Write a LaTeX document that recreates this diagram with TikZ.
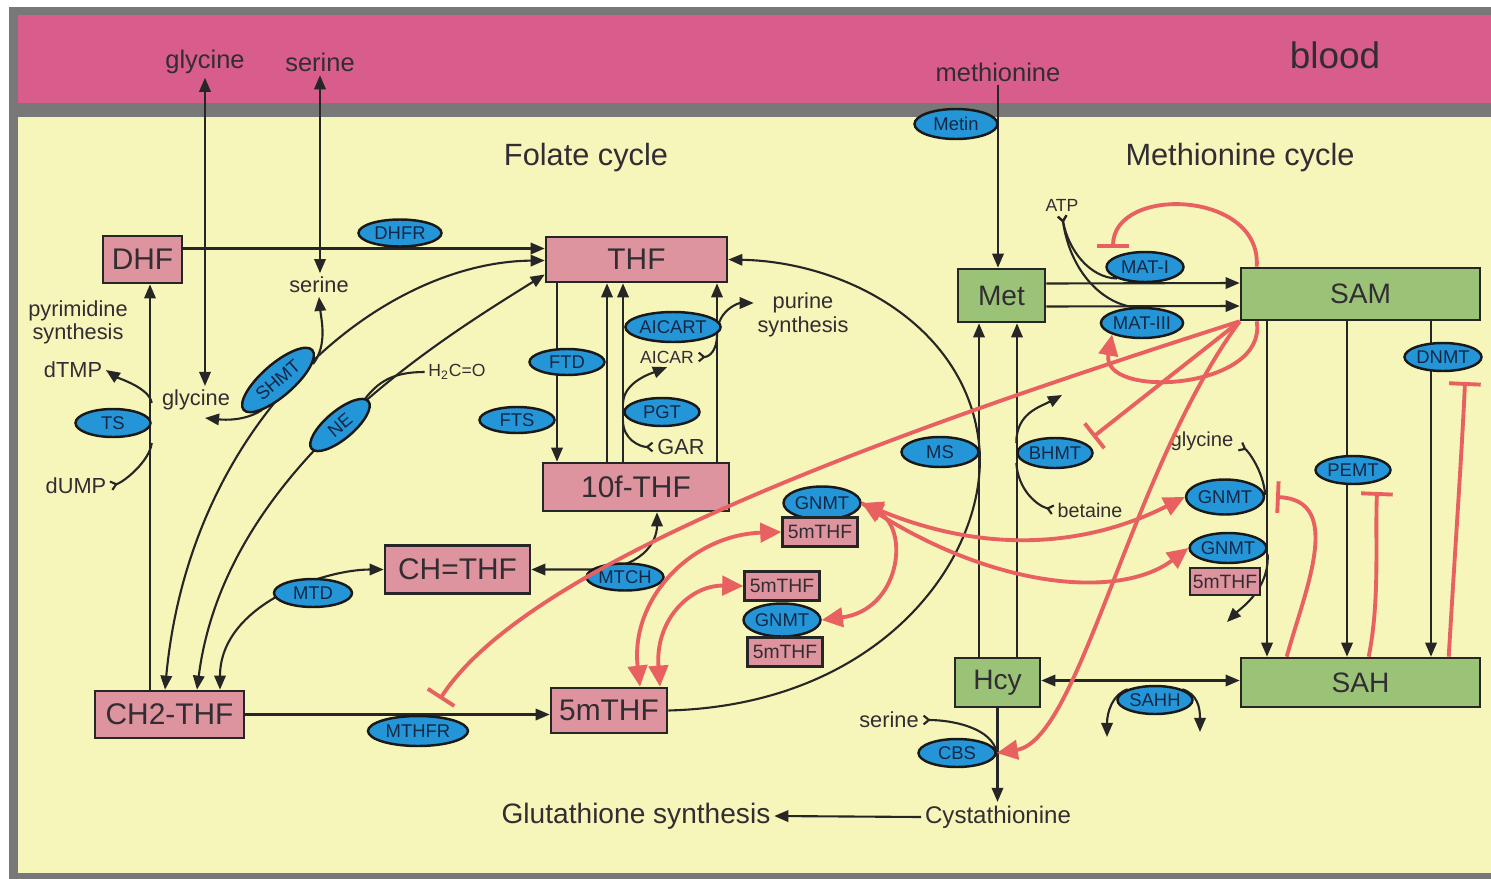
\documentclass[tikz,border=0pt]{standalone}
\usepackage{fontspec}
\setmainfont{Liberation Sans}
\usepackage{tikz}
\usetikzlibrary{shapes, arrows.meta, calc, positioning}

\definecolor{bloodpink}{RGB}{216,92,140}
\definecolor{cellyellow}{RGB}{246,246,186}
\definecolor{framegrey}{RGB}{120,120,120}
\definecolor{folpink}{RGB}{222,148,158}
\definecolor{metgreen}{RGB}{155,195,120}
\definecolor{enzblue}{RGB}{36,150,216}
\definecolor{regred}{RGB}{232,96,95}
\definecolor{ink}{RGB}{50,45,50}
\definecolor{enzink}{RGB}{20,40,70}

\pgfdeclarelayer{back}
\pgfdeclarelayer{lines}
\pgfsetlayers{back,lines,main}

\begin{document}
\begin{tikzpicture}[
      x=0.02cm, y=-0.02cm,  % one unit = one pixel of the sketch
      Tri/.tip={Triangle[length=8pt, width=6.5pt]},
      Big/.tip={Triangle[length=12pt, width=11pt]},
      Fork/.tip={Straight Barb[reversed, length=3pt, width=5pt]},
      Inh/.tip={Bar[width=18pt]},
      folbox/.style={draw=black!85, line width=1.5pt, fill=folpink, inner sep=0pt, minimum height=9.4mm, text=ink, font=\fontsize{17}{20}\selectfont},
      metbox/.style={draw=black!85, line width=1.5pt, fill=metgreen, inner sep=0pt, text=ink, font=\fontsize{16}{19}\selectfont},
      smbox/.style={draw=black!85, line width=1.3pt, fill=folpink, inner sep=0pt, minimum width=15mm, minimum height=5.8mm, text=ink, font=\fontsize{11}{13}\selectfont},
      enz/.style={ellipse, draw=black!90, line width=1.4pt, fill=enzblue, inner sep=0pt, minimum width=15mm, minimum height=5.6mm, text=enzink, font=\fontsize{10.5}{12}\selectfont},
      lbl/.style={text=ink, inner sep=2pt, font=\fontsize{12.4}{14}\selectfont},
      tiny/.style={text=ink, inner sep=2pt, font=\fontsize{10}{12}\selectfont},
      toplbl/.style={text=ink, inner sep=2pt, font=\fontsize{14.5}{17}\selectfont},
      heading/.style={text=ink, inner sep=2pt, font=\fontsize{17.5}{21}\selectfont},
      flow/.style={draw=black!85, line width=1.2pt},
      reg/.style={draw=regred, line width=2.2pt}
    ]
    \useasboundingbox (0,0) rectangle (1491,879);
    % blood band, membrane and cell
    \begin{pgfonlayer}{back}
      \fill[white] (0,0) rectangle (1491,879);
      \fill[framegrey] (9,7) rectangle (1491,879);
      \fill[bloodpink] (18,15) rectangle (1491,103);
      \fill[cellyellow] (18,117) rectangle (1491,873);
    \end{pgfonlayer}

    % headings
    \node[heading, font=\fontsize{21}{24}\selectfont] (blood) at (1335,55) {blood};
    \node[heading] (folcyc) at (586,158) {Folate cycle};
    \node[heading] (metcyc) at (1240,158) {Methionine cycle};
    \node[heading, font=\fontsize{16}{19}\selectfont] (gluta) at (636,816) {Glutathione synthesis};

    % blood metabolites
    \node[toplbl] (bgly) at (205,62) {glycine};
    \node[toplbl] (bser) at (320,62) {serine};
    \node[toplbl] (bmet) at (998,72) {methionine};

    % folate cycle
    \node[folbox, minimum width=15.8mm] (dhf) at (142.5,259.5) {DHF};
    \node[folbox, minimum width=36.2mm, minimum height=9mm] (thf) at (636.5,259.5) {THF};
    \node[folbox, minimum width=37.2mm, minimum height=9.6mm] (fthf) at (636,487) {10f-THF};
    \node[folbox, minimum width=29mm, minimum height=9.6mm] (chthf) at (457.5,569.5) {CH=THF};
    \node[folbox, minimum width=29.8mm] (ch2thf) at (169.5,714.5) {CH2-THF};
    \node[folbox, minimum width=23.2mm, minimum height=9mm] (mthf) at (609,710.5) {5mTHF};

    % methionine cycle
    \node[metbox, minimum width=17.4mm, minimum height=10.6mm] (met) at (1001.5,295.5) {Met};
    \node[metbox, minimum width=47.8mm, minimum height=10.4mm] (sam) at (1360.5,294) {SAM};
    \node[metbox, minimum width=17mm, minimum height=9.8mm] (hcy) at (997.5,682.5) {Hcy};
    \node[metbox, minimum width=47.8mm, minimum height=9.8mm] (sah) at (1360.5,682.5) {SAH};

    % side metabolites
    \node[lbl] (iser) at (319,285) {serine};
    \node[lbl] (igly) at (196,400) {glycine};
    \node[lbl, align=center, font=\fontsize{12.4}{13}\selectfont] (pyrim) at (78,322) {pyrimidine\\synthesis};
    \node[lbl] (dtmp) at (73,370) {dTMP};
    \node[lbl] (dump) at (76,486) {dUMP};
    \node[tiny] (hcho) at (457,372) {H\textsubscript{2}C=O};
    \node[lbl, align=center, font=\fontsize{12.4}{13.6}\selectfont] (purine) at (803,315) {purine\\synthesis};
    \node[tiny] (aicar) at (667,357) {AICAR};
    \node[lbl] (gar) at (681,447) {GAR};
    \node[tiny] (atp) at (1062,205) {ATP};
    \node[lbl, font=\fontsize{11.5}{13}\selectfont] (rgly) at (1202,441) {glycine};
    \node[lbl, font=\fontsize{11.2}{13}\selectfont] (betaine) at (1090,510) {betaine};
    \node[lbl] (sser) at (889,720) {serine};
    \node[lbl, font=\fontsize{13.7}{16}\selectfont] (cysta) at (998,817) {Cystathionine};

    % enzymes
    \node[enz, minimum width=16.6mm, minimum height=6mm] (metin) at (956,124) {Metin};
    \node[enz, minimum width=16.6mm, minimum height=5.4mm] (dhfr) at (400,233) {DHFR};
    \node[enz, rotate=41, minimum width=18.2mm, minimum height=6.4mm] (shmt) at (278,380) {SHMT};
    \node[enz, rotate=40, minimum width=14.8mm] (ne) at (340,425) {NE};
    \node[enz] (ts) at (113,423) {TS};
    \node[enz, minimum height=5.2mm] (ftd) at (567,362) {FTD};
    \node[enz, minimum height=5.2mm] (fts) at (517,420) {FTS};
    \node[enz, minimum width=17mm, minimum height=6mm] (aicart) at (673,327) {AICART};
    \node[enz] (pgt) at (662,412) {PGT};
    \node[enz, minimum width=15.4mm, minimum height=5.4mm] (mtch) at (625,577) {MTCH};
    \node[enz, minimum width=15.6mm] (mtd) at (313,593) {MTD};
    \node[enz, minimum width=20mm, minimum height=6mm] (mthfr) at (418,731) {MTHFR};
    \node[enz, minimum width=15.4mm, minimum height=6mm] (mati) at (1145,267) {MAT-I};
    \node[enz, minimum width=15.4mm, minimum height=6mm] (matiii) at (1142,323) {MAT-III};
    \node[enz, minimum width=15.4mm, minimum height=6mm] (ms) at (940,452) {MS};
    \node[enz, minimum height=6mm] (bhmt) at (1055,453) {BHMT};
    \node[enz, minimum width=15.4mm] (dnmt) at (1443,357) {DNMT};
    \node[enz] (pemt) at (1353,470) {PEMT};
    \node[enz] (sahh) at (1155,700) {SAHH};
    \node[enz, minimum width=15.4mm] (cbs) at (957,753) {CBS};
    \node[enz, minimum width=15.4mm, minimum height=6.6mm] (gnmta) at (822,503) {GNMT};
    \node[smbox] (sma) at (820,532) {5mTHF};
    \node[smbox] (smb) at (782,586) {5mTHF};
    \node[enz, minimum width=15.4mm, minimum height=6.6mm] (gnmtb) at (782,620) {GNMT};
    \node[smbox] (smc) at (785,652) {5mTHF};
    \node[enz, minimum width=15.6mm, minimum height=7mm] (gnmtc) at (1225,497) {GNMT};
    \node[enz, minimum width=14mm, minimum height=6mm] (gnmtd) at (1228,548) {GNMT};
    \node[smbox, minimum width=14mm, minimum height=5.4mm] (smd) at (1225,581.5) {5mTHF};

    % columns of the vertical connectors
    \coordinate (xdhf) at (150,0);
    \coordinate (xout) at (165,0);
    \coordinate (xin) at (197,0);
    \coordinate (xmtd) at (220,0);
    \coordinate (xftd) at (557,0);
    \coordinate (xup) at (607,0);
    \coordinate (xpgt) at (623,0);
    \coordinate (xaic) at (717,0);
    \coordinate (xmtch) at (657,0);
    \coordinate (xms) at (979,0);
    \coordinate (xbh) at (1017,0);
    \coordinate (xgn) at (1267,0);
    \coordinate (xpe) at (1347,0);
    \coordinate (xdn) at (1431,0);
    % branch points and free ends
    \coordinate (sha) at (313,364);
    \coordinate (shb) at (262,410);
    \coordinate (nea) at (362,403);
    \coordinate (pgta) at (623,404);
    \coordinate (pgtb) at (623,421);
    \coordinate (aicj) at (717,335);
    \coordinate (glyend) at (205,418);
    \coordinate (bhmtend) at (1062,395);
    \coordinate (sahhl) at (1107,737);
    \coordinate (sahhr) at (1200,732);
    \coordinate (gnend) at (1227,622);
    \coordinate (matit) at (1113,248);
    \coordinate (bhmtt) at (1093,437);
    \coordinate (mthfrt) at (440,699);
    \coordinate (gnmtt) at (1276,497);
    \coordinate (pemtt) at (1377,492);
    \coordinate (dnmtt) at (1465,382);

    \begin{pgfonlayer}{lines}
      % transport from blood
      \draw[flow, Tri-Tri] (bgly.south) -- (bgly.south |- igly.north);
      \draw[flow, Tri-Tri] (bser.south) -- (bser.south |- iser.north);
      \draw[flow, -Tri] (bmet.south) -- (bmet.south |- met.north);
      % folate cycle
      \draw[flow, -Tri] ($(dhf.east)+(0,-11)$) -- ($(thf.west)+(0,-11)$);
      \draw[flow, -Tri] (ch2thf.north -| xdhf) -- (dhf.south -| xdhf);
      \draw[flow, Tri-Tri] ($(thf.west)+(0,1)$) .. controls (380,262) and (190,420) .. (ch2thf.north -| xout);
      \draw[flow, Tri-Tri] ($(thf.west)+(0,15)$) .. controls (440,340) and (225,470) .. (ch2thf.north -| xin);
      \draw[flow, Tri-Tri] (ch2thf.north -| xmtd) .. controls +(0,-85) and +(-60,0) .. (chthf.west);
      \draw[flow, -Tri] (ch2thf.east) -- (ch2thf.east -| mthf.west);
      \draw[flow, -Tri] (sha) .. controls (328,345) and (321,318) .. (iser.south);
      \draw[flow, -Tri] (shb) .. controls (245,421) and (225,420) .. (glyend);
      \draw[flow] (nea) .. controls (378,380) and (395,372) .. (hcho.west);
      \draw[flow, -Tri] ($(ts.east)+(0,-20)$) .. controls +(-2,-15) and +(12,8) .. (dtmp.east);
      \draw[flow, -Fork] ($(ts.east)+(0,20)$) .. controls +(-2,18) and +(14,-4) .. (dump.east);
      \draw[flow, -Tri] (thf.south -| xftd) -- (fthf.north -| xftd);
      \draw[flow, -Tri] (fthf.north -| xup) -- (thf.south -| xup);
      \draw[flow, -Tri] (fthf.north -| xpgt) -- (thf.south -| xpgt);
      \draw[flow, -Tri] (fthf.north -| xaic) -- (thf.south -| xaic);
      \draw[flow, Fork-Tri] (aicar.east) .. controls +(12,0) and +(0,15) .. (aicj) .. controls +(0,-25) and +(-15,0) .. ($(purine.west)+(0,-12)$);
      \draw[flow, -Tri] (pgta) .. controls +(0,-22) and +(-15,6) .. (aicar.south);
      \draw[flow, -Fork] (pgtb) .. controls +(0,18) and +(-14,0) .. (gar.west);
      \draw[flow, Tri-Tri] (chthf.east) -- ++(60,0) .. controls +(50,0) and +(0,30) .. (fthf.south -| xmtch);
      \draw[flow, -Tri] (mthf.east) .. controls (880,705) and (985,560) .. (ms.east) .. controls (972,330) and (850,262) .. (thf.east);
      % methionine cycle
      \draw[flow, -Tri] ($(met.east)+(0,-12)$) -- ($(sam.west)+(0,-11)$);
      \draw[flow, -Tri] ($(met.east)+(0,11)$) -- ($(sam.west)+(0,12)$);
      \draw[flow, Fork-] (atp.south) .. controls (1068,250) and (1090,278) .. (mati.south west);
      \draw[flow, Fork-] (atp.south) .. controls (1070,270) and (1100,302) .. (matiii.120);
      \draw[flow, -Tri] (hcy.north -| xms) -- (met.south -| xms);
      \draw[flow, -Tri] (hcy.north -| xbh) -- (met.south -| xbh);
      \draw[flow, -Tri] ($(bhmt.west)+(0,-10)$) .. controls +(0,-30) and +(-22,12) .. (bhmtend);
      \draw[flow, -Fork] ($(bhmt.west)+(0,10)$) .. controls +(2,28) and +(-16,-4) .. (betaine.west);
      \draw[flow, Tri-Tri] ($(hcy.east)+(0,-2)$) -- ($(sah.west)+(0,-2)$);
      \draw[flow, -Tri] (sahh.north west) .. controls +(-15,5) and +(0,-25) .. (sahhl);
      \draw[flow, -Tri] (sahh.north east) .. controls +(15,5) and +(0,-25) .. (sahhr);
      \draw[flow, -Tri] (hcy.south) -- (hcy.south |- cysta.north);
      \draw[flow, -Fork] (cbs.east) .. controls +(-4,-25) and +(30,0) .. (sser.east);
      \draw[flow, -Tri] (cysta.west) -- (gluta.east);
      \draw[flow, -Tri] (sam.south -| xgn) -- (sah.north -| xgn);
      \draw[flow, -Tri] (sam.south -| xpe) -- (sah.north -| xpe);
      \draw[flow, -Tri] (sam.south -| xdn) -- (sah.north -| xdn);
      \draw[flow, -Fork] ($(gnmtc.east)+(0,-2)$) .. controls +(-2,-25) and +(8,4) .. ($(rgly.east)+(2,5)$);
      \draw[flow, -Tri] ($(gnmtd.east)+(0,6)$) .. controls +(2,35) and +(14,-14) .. (gnend);
    \end{pgfonlayer}

    % regulation by SAM, SAH and 5mTHF
    \draw[reg, -Inh] (sam.south west) .. controls (900,430) and (530,560) .. (mthfrt);
    \draw[reg, -Inh] (sam.south west) -- (bhmtt);
    \draw[reg, -Big] (sam.south west) .. controls (1130,470) and (1080,740) .. (cbs.east);
    \draw[reg, -Inh] ($(sam.north west)+(17,0)$) .. controls (1262,190) and (1113,185) .. (matit);
    \draw[reg, -Big] ($(sam.south west)+(17,0)$) .. controls (1268,390) and (1100,400) .. (matiii.south west);
    \draw[reg, -Inh] ($(sah.north west)+(47,0)$) .. controls (1305,590) and (1345,500) .. (gnmtt);
    \draw[reg, -Inh] ($(sah.north west)+(129,0)$) .. controls (1380,600) and (1375,540) .. (pemtt);
    \draw[reg, -Inh] ($(sah.north west)+(209,0)$) .. controls (1455,550) and (1462,450) .. (dnmtt);
    \draw[reg, Big-Big] (gnmta.east) .. controls (910,530) and (900,610) .. (gnmtb.east);
    \draw[reg, Big-Big] (gnmta.east) .. controls (1000,560) and (1100,540) .. (gnmtc.west);
    \draw[reg, -Big] (gnmta.east) .. controls (990,590) and (1120,600) .. (gnmtd.west);
    \draw[reg, Big-Big] ($(mthf.north)+(31,0)$) .. controls (630,600) and (690,535) .. (sma.west);
    \draw[reg, Big-Big] ($(mthf.north)+(51,0)$) .. controls (655,620) and (690,585) .. (smb.west);
  \end{tikzpicture}
\end{document}
